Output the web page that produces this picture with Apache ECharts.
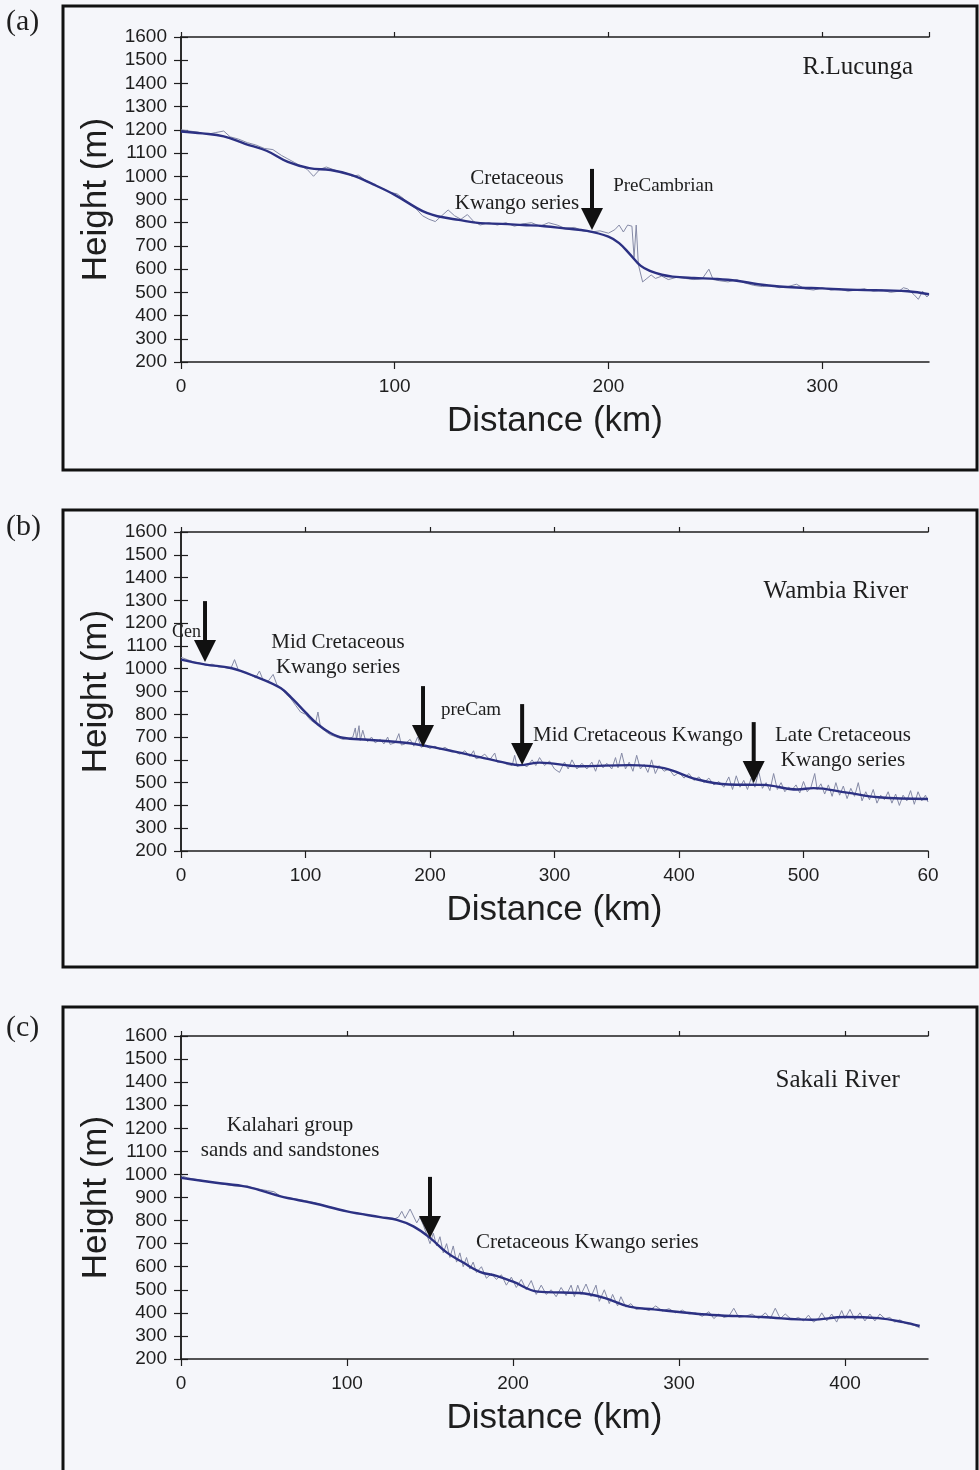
<!DOCTYPE html>
<html>
<head>
<meta charset="utf-8">
<script src="https://cdn.jsdelivr.net/npm/echarts@6/dist/echarts.min.js"></script>
<style>
  html, body { margin: 0; padding: 0; background: #f5f6fa; }
  #main { width: 979px; height: 1470px; }
</style>
</head>
<body>
<div id="main"></div>
<script>
// river long profiles: raw height samples and the smoothed trend, [km, m]
const rawA = [[0,1200],[4,1195],[8,1190],[12,1180],[16,1188],[20,1195],[23,1170],[27,1160],[31,1145],[35,1135],[39,1120],[43,1115],[47,1090],[50,1075],[53,1060],[56,1045],[59,1030],[62,1000],[65,1030],[68,1040],[71,1030],[74,1020],[77,1015],[80,1000],[83,1005],[86,985],[89,970],[92,955],[95,945],[98,930],[101,925],[104,905],[107,880],[110,860],[113,830],[116,815],[119,805],[122,830],[125,855],[128,830],[131,815],[134,835],[137,805],[140,790],[144,800],[148,790],[152,800],[156,785],[160,795],[164,800],[168,785],[172,800],[176,790],[180,775],[184,780],[188,765],[192,760],[196,765],[200,755],[203,770],[205,790],[207,760],[209,790],[211,785],[212,650],[213,790],[214,620],[216,545],[218,560],[220,575],[222,560],[225,570],[228,555],[232,565],[236,560],[240,555],[244,560],[247,600],[249,555],[252,550],[256,545],[260,555],[264,540],[268,530],[272,525],[276,530],[280,520],[284,525],[288,535],[292,515],[296,510],[300,520],[304,510],[308,515],[312,505],[316,510],[320,515],[324,505],[328,510],[332,500],[336,505],[338,520],[340,515],[343,490],[345,470],[347,505],[349,480],[350,490]];
const smoothA = [[0,1193],[10,1185],[20,1172],[30,1140],[40,1110],[50,1062],[60,1035],[70,1027],[80,1005],[90,965],[100,920],[110,865],[115,842],[120,828],[130,812],[140,798],[150,795],[160,790],[170,785],[180,775],[190,765],[200,740],[205,712],[210,665],[215,615],[220,590],[225,576],[230,568],[240,562],[250,558],[260,550],[270,535],[280,525],[290,520],[300,517],[310,512],[320,510],[330,508],[340,505],[350,492]];

const rawB = [[0,1050],[5,1040],[10,1030],[15,1025],[20,1015],[25,1020],[30,1008],[35,1005],[40,1000],[43,1040],[46,995],[50,985],[55,975],[60,960],[63,990],[66,950],[70,945],[74,975],[77,930],[80,915],[84,890],[88,870],[92,840],[96,810],[100,800],[104,775],[108,760],[110,810],[112,745],[116,725],[120,710],[125,700],[130,690],[135,695],[138,700],[140,740],[141,690],[143,750],[144,685],[146,730],[148,690],[150,680],[153,700],[156,675],[160,690],[163,670],[166,700],[168,668],[172,675],[175,715],[177,665],[180,670],[184,690],[187,660],[190,700],[193,655],[196,665],[200,650],[204,660],[208,645],[212,655],[216,640],[220,635],[224,625],[228,640],[232,615],[235,640],[237,605],[240,610],[244,625],[248,600],[252,630],[254,590],[258,590],[262,580],[266,575],[268,620],[270,570],[274,580],[278,570],[282,600],[285,575],[288,610],[292,575],[296,595],[300,560],[304,545],[308,590],[311,560],[314,600],[318,560],[322,585],[326,560],[330,590],[333,550],[336,600],[339,565],[342,585],[346,560],[349,610],[351,565],[354,630],[357,560],[360,590],[363,550],[366,620],[369,560],[372,580],[375,545],[378,600],[381,540],[384,575],[388,550],[392,560],[396,530],[400,545],[404,520],[408,540],[412,510],[416,525],[420,500],[424,520],[428,490],[432,505],[436,480],[440,525],[443,470],[446,530],[449,480],[452,510],[455,470],[458,520],[461,480],[464,550],[467,475],[470,500],[473,465],[476,540],[479,470],[482,500],[485,460],[488,480],[491,470],[494,490],[497,455],[500,505],[503,460],[506,480],[509,540],[511,470],[514,495],[517,450],[520,490],[523,440],[526,500],[529,445],[532,485],[535,430],[538,475],[541,440],[544,500],[547,420],[550,460],[553,425],[556,470],[559,410],[562,445],[565,425],[568,460],[571,410],[574,450],[577,400],[580,445],[583,420],[586,465],[589,405],[592,460],[595,420],[598,445],[600,415]];
const smoothB = [[0,1040],[20,1018],[40,1003],[60,965],[80,915],[90,865],[100,808],[110,755],[120,718],[130,697],[150,688],[180,675],[200,658],[220,636],[240,612],[260,588],[272,577],[288,588],[320,572],[360,577],[388,564],[414,515],[440,492],[468,490],[495,470],[508,476],[535,456],[560,436],[600,428]];

const rawC = [[0,995],[4,985],[8,980],[12,975],[16,970],[20,965],[24,960],[28,955],[32,950],[36,948],[40,950],[44,940],[48,935],[52,930],[56,925],[60,905],[64,900],[68,895],[72,890],[76,885],[80,878],[84,870],[88,862],[92,855],[96,845],[100,840],[104,835],[108,830],[112,825],[116,820],[120,815],[124,810],[128,805],[131,815],[133,840],[135,810],[138,850],[140,820],[142,790],[144,815],[146,780],[148,740],[150,700],[152,745],[154,690],[156,730],[158,660],[160,700],[162,640],[164,690],[166,620],[168,660],[170,600],[172,640],[174,590],[176,620],[178,575],[181,600],[184,550],[187,570],[190,545],[193,565],[196,520],[199,555],[202,510],[205,545],[208,500],[211,540],[214,480],[217,520],[220,480],[223,500],[226,470],[229,510],[232,475],[235,520],[237,470],[239,520],[241,480],[244,525],[247,470],[250,520],[252,450],[255,500],[258,440],[260,480],[263,430],[265,470],[268,425],[271,440],[274,415],[278,420],[282,410],[286,430],[290,408],[294,418],[298,400],[302,412],[306,395],[310,400],[314,385],[318,405],[321,375],[324,395],[327,380],[330,385],[333,420],[336,380],[340,385],[344,395],[348,375],[352,400],[355,375],[358,420],[361,375],[364,395],[368,370],[372,380],[375,365],[378,390],[381,360],[384,375],[386,400],[389,365],[392,395],[395,360],[398,410],[400,375],[403,415],[406,370],[409,400],[412,365],[415,395],[418,365],[421,395],[424,375],[427,380],[430,360],[433,370],[436,355],[439,350],[442,345],[445,335]];
const smoothC = [[0,985],[20,965],[40,946],[60,905],[80,875],[100,840],[120,815],[130,803],[140,775],[150,725],[160,662],[170,618],[180,578],[190,560],[200,535],[215,492],[230,488],[240,486],[255,465],[270,427],[285,415],[300,404],[320,391],[350,382],[380,370],[400,382],[420,377],[435,360],[445,343]];

const distMax = [350, 600, 450];
const heightMin = 200, heightMax = 1600;

// annotations in data coordinates [km, m]
const riverNames = ['R.Lucunga', 'Wambia River', 'Sakali River'];
const riverNamePos = [[342.5, 1471], [584, 1341], [433, 1409]];
const arrowTips = [
  [[192.3, 769]],
  [[19.3, 1029], [194.4, 656], [274, 577], [460, 498]],
  [[150, 725]]
];
const notes = [
  [
    { text: 'Cretaceous\nKwango series', at: [157.2, 935], align: 'center' },
    { text: 'PreCambrian', at: [202.2, 958], align: 'left', size: 19 }
  ],
  [
    { text: 'Cen', at: [-7.2, 1161], align: 'left', size: 18 },
    { text: 'Mid Cretaceous\nKwango series', at: [126.1, 1062], align: 'center' },
    { text: 'preCam', at: [208.8, 819], align: 'left', size: 19 },
    { text: 'Mid Cretaceous Kwango', at: [282.7, 709], align: 'left' },
    { text: 'Late Cretaceous\nKwango series', at: [531.7, 654], align: 'center' }
  ],
  [
    { text: 'Kalahari group\nsands and sandstones', at: [65.7, 1156], align: 'center' },
    { text: 'Cretaceous Kwango series', at: [177.7, 707], align: 'left' }
  ]
];
const panelTags = ['(a)', '(b)', '(c)'];

const SANS = '"Liberation Sans", Arial, sans-serif';
const SERIF = '"Liberation Serif", "Times New Roman", serif';
const INK = '#1e1e1e';

const chart = echarts.init(document.getElementById('main'));

const grids = [
  { left: 181, top: 37, width: 748, height: 325 },
  { left: 181, top: 532, width: 747, height: 319 },
  { left: 181, top: 1036, width: 747, height: 323 }
];
const frames = [[63, 6, 914, 464], [63, 510, 914, 457], [63, 1007, 914, 480]];
const tagY = [22, 527, 1028];

const axisLine = { lineStyle: { color: INK, width: 1.5 } };
const axisTick = { length: 7, lineStyle: { color: INK, width: 1.2 } };

const xAxes = [], yAxes = [], series = [];
grids.forEach(function (g, i) {
  g.outerBoundsMode = 'none';
  xAxes.push({
    gridIndex: i, type: 'value', min: 0, max: distMax[i], interval: 100, position: 'bottom',
    axisLine: axisLine, axisTick: axisTick, splitLine: { show: false },
    axisLabel: {
      fontSize: 19, fontFamily: SANS, color: INK, margin: 15,
      showMaxLabel: i === 1,
      formatter: function (v) { return (i === 1 && v === 600) ? '60' : String(v); }
    },
    name: 'Distance (km)', nameLocation: 'middle', nameGap: 42,
    nameTextStyle: { fontSize: 35, fontFamily: SANS, color: INK }
  });
  xAxes.push({
    gridIndex: i, type: 'value', min: 0, max: distMax[i], interval: 100, position: 'top',
    axisLine: axisLine, axisTick: { length: 5, lineStyle: { color: INK, width: 1.2 } },
    axisLabel: { show: false }, splitLine: { show: false }
  });
  yAxes.push({
    gridIndex: i, type: 'value', min: heightMin, max: heightMax, interval: 100, position: 'left',
    axisLine: axisLine, axisTick: axisTick, splitLine: { show: false },
    axisLabel: {
      fontSize: 19, fontFamily: SANS, color: INK, margin: 14,
      formatter: function (v) { return String(v); }
    },
    name: 'Height (m)', nameLocation: 'middle', nameGap: 52,
    nameTextStyle: { fontSize: 35, fontFamily: SANS, color: INK }
  });
  yAxes.push({
    gridIndex: i, type: 'value', min: heightMin, max: heightMax, interval: 100, position: 'right',
    axisLine: axisLine, axisTick: axisTick, axisLabel: { show: false }, splitLine: { show: false }
  });
});

const raws = [rawA, rawB, rawC];
const smooths = [smoothA, smoothB, smoothC];
for (let i = 0; i < 3; i++) {
  series.push({
    type: 'line', xAxisIndex: 2 * i, yAxisIndex: 2 * i, data: raws[i],
    symbol: 'none', lineStyle: { color: '#858aa6', width: 1 }, z: 2
  });
  series.push({
    type: 'line', xAxisIndex: 2 * i, yAxisIndex: 2 * i, data: smooths[i], smooth: 0.4,
    symbol: 'none', lineStyle: { color: '#2c3183', width: 2.4 }, z: 3
  });
}

chart.setOption({
  backgroundColor: '#f5f6fa',
  animation: false,
  grid: grids,
  xAxis: xAxes,
  yAxis: yAxes,
  series: series
});

// overlay: frames, panel tags, river names, arrows and notes
function toPx(i, p) {
  return chart.convertToPixel({ xAxisIndex: 2 * i, yAxisIndex: 2 * i }, p);
}
function textEl(txt, x, y, font, align) {
  return {
    type: 'text', z: 50,
    style: {
      text: txt, x: x, y: y, font: font, fill: INK,
      textAlign: align, align: align, textVerticalAlign: 'middle', verticalAlign: 'middle',
      lineHeight: 25
    }
  };
}

const elements = [];
for (let i = 0; i < 3; i++) {
  const f = frames[i];
  elements.push({
    type: 'rect', z: 40, shape: { x: f[0], y: f[1], width: f[2], height: f[3] },
    style: { fill: 'none', stroke: '#111', lineWidth: 3 }
  });
  elements.push(textEl(panelTags[i], 6, tagY[i], '30px ' + SERIF, 'left'));

  const rn = toPx(i, riverNamePos[i]);
  elements.push(textEl(riverNames[i], rn[0], rn[1], '25px ' + SERIF, 'right'));

  notes[i].forEach(function (n) {
    const p = toPx(i, n.at);
    elements.push(textEl(n.text, p[0], p[1], (n.size || 21) + 'px ' + SERIF, n.align));
  });

  arrowTips[i].forEach(function (t) {
    const p = toPx(i, t);
    elements.push({
      type: 'rect', z: 45, shape: { x: p[0] - 2, y: p[1] - 61, width: 4, height: 42 },
      style: { fill: '#111' }
    });
    elements.push({
      type: 'polygon', z: 45,
      shape: { points: [[p[0] - 11, p[1] - 22], [p[0] + 11, p[1] - 22], [p[0], p[1]]] },
      style: { fill: '#111' }
    });
  });
}

chart.setOption({ graphic: { elements: elements } });
</script>
</body>
</html>
